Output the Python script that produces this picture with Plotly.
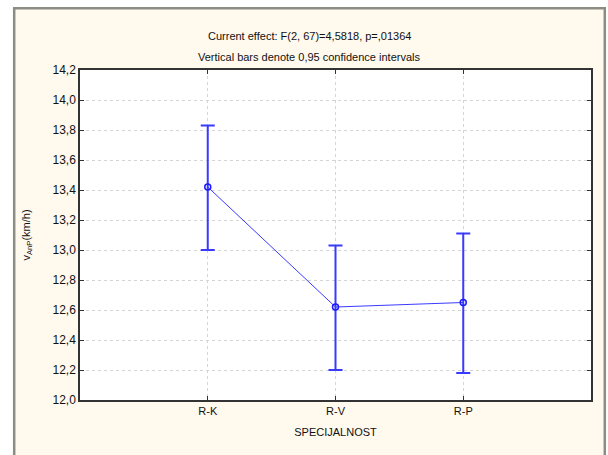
import plotly.graph_objects as go

categories = ["R-K", "R-V", "R-P"]
means = [13.42, 12.62, 12.65]
upper = [13.83, 13.03, 13.11]
lower = [13.00, 12.20, 12.18]
ytick_vals = [12.0, 12.2, 12.4, 12.6, 12.8, 13.0, 13.2, 13.4, 13.6, 13.8, 14.0, 14.2]

err_plus = [u - m for u, m in zip(upper, means)]
err_minus = [m - l for m, l in zip(means, lower)]
xpos = list(range(len(categories)))

W, H = 608, 455
L, R, T, B = 80, 17, 70, 55
pw, ph = W - L - R, H - T - B

def px(x):
    return (x - L) / pw

def py(y):
    return (H - B - y) / ph

fig = go.Figure()
fig.add_trace(go.Scatter(
    x=xpos, y=means, mode="lines+markers",
    line=dict(color="#3a3aff", width=1),
    marker=dict(symbol="circle-open", size=6, color="#1a1aff", line=dict(width=1.5)),
    error_y=dict(type="data", symmetric=False, array=err_plus, arrayminus=err_minus,
                 color="#3a3aff", thickness=2, width=7),
    showlegend=False, hoverinfo="skip",
))

# white strips outside the cream frame
for (x0, x1, y0, y1) in [(-5, 13, -5, 470), (-5, 615, -5, 7), (606, 615, -5, 470)]:
    fig.add_shape(type="rect", xref="paper", yref="paper",
                  x0=px(x0), x1=px(x1), y0=py(y1), y1=py(y0),
                  fillcolor="white", line=dict(width=0), layer="below")
# gray frame border
fig.add_shape(type="path", xref="paper", yref="paper",
              path="M {} {} L {} {} L {} {} L {} {}".format(px(14.2), py(470), px(14.2), py(8.2),
                                                          px(604.8), py(8.2), px(604.8), py(470)),
              line=dict(color="#8c8c84", width=2.5), layer="below")

fig.add_annotation(text="Current effect: F(2, 67)=4,5818, p=,01364", xref="paper", yref="paper",
                   x=px(309), y=py(28), showarrow=False, font=dict(size=11, color="#111"))
fig.add_annotation(text="Vertical bars denote 0,95 confidence intervals", xref="paper", yref="paper",
                   x=px(309), y=py(49), showarrow=False, font=dict(size=11, color="#111"))

fig.update_layout(
    width=W, height=H,
    margin=dict(l=L, r=R, t=T, b=B, autoexpand=False),
    paper_bgcolor="#fff9ee", plot_bgcolor="white",
    separators=", ",
    font=dict(family="Liberation Sans, Arial, sans-serif", size=11, color="#111"),
    xaxis=dict(
        range=[-1, 3], tickvals=xpos, ticktext=categories, automargin=False,
        showgrid=True, gridcolor="#d4d4d4", griddash="dot", gridwidth=1,
        showline=True, linecolor="#333", linewidth=1.5, mirror="ticks",
        ticks="inside", ticklen=4, tickcolor="#333", zeroline=False,
        tickfont=dict(size=11),
        title=dict(text="SPECIJALNOST", standoff=12, font=dict(size=11)),
    ),
    yaxis=dict(
        range=[12.0, 14.2], tickvals=ytick_vals, tickformat=".1f", automargin=False,
        showgrid=True, gridcolor="#d4d4d4", griddash="dot", gridwidth=1,
        showline=True, linecolor="#333", linewidth=1.5, mirror="ticks",
        ticks="inside", ticklen=4, tickcolor="#333", zeroline=False,
        tickfont=dict(size=12),
        title=dict(text="v<sub>AnP</sub>(km/h)", standoff=20, font=dict(size=11)),
    ),
)

fig.write_html("out.html", config={"displayModeBar": False},
               post_script="document.body.style.margin='0';document.body.style.overflow='hidden';")
